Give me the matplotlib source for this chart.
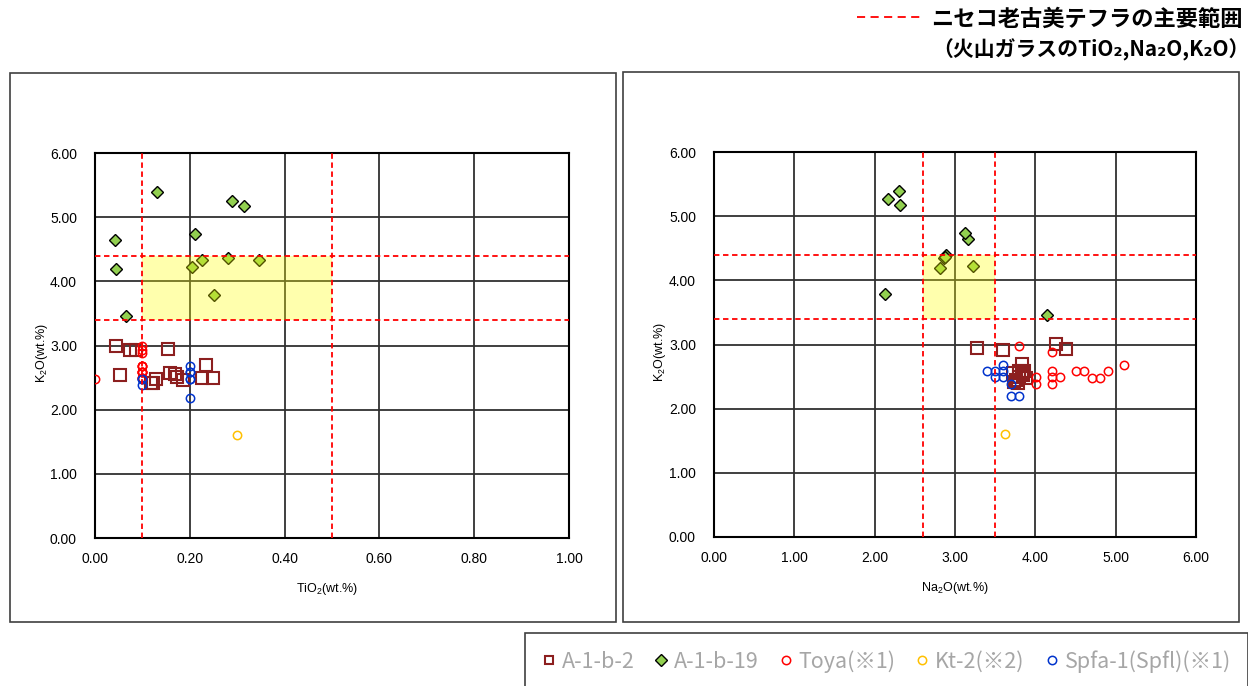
import matplotlib
matplotlib.use("Agg")
import matplotlib.pyplot as plt
from matplotlib.patches import Rectangle
from matplotlib.lines import Line2D

plt.rcParams['font.family'] = ['Liberation Sans', 'DejaVu Sans']
plt.rcParams['mathtext.default'] = 'regular'

JP = ['Noto Sans CJK JP', 'DejaVu Sans']

# A-1-b-2 (glass shards)
a1b2_tio2 = [0.045, 0.074, 0.086, 0.155, 0.053, 0.129, 0.123, 0.119, 0.158, 0.169, 0.172, 0.185, 0.234, 0.226, 0.249]
a1b2_k2o_l = [3.00, 2.93, 2.93, 2.95, 2.54, 2.48, 2.42, 2.42, 2.57, 2.55, 2.51, 2.46, 2.69, 2.50, 2.49]
a1b2_na2o = [3.28, 3.60, 4.26, 4.38, 3.84, 3.72, 3.76, 3.80, 3.85, 3.88, 3.78, 3.83, 3.74, 3.86, 3.80]
a1b2_k2o_r = [2.95, 2.92, 3.01, 2.93, 2.70, 2.55, 2.45, 2.58, 2.52, 2.48, 2.40, 2.55, 2.42, 2.58, 2.50]

# A-1-b-19
a1b19_tio2 = [0.130, 0.290, 0.314, 0.042, 0.210, 0.044, 0.205, 0.226, 0.281, 0.347, 0.252, 0.065]
a1b19_k2o_l = [5.39, 5.25, 5.17, 4.64, 4.73, 4.20, 4.22, 4.34, 4.36, 4.33, 3.78, 3.46]
a1b19_na2o = [2.30, 2.16, 2.32, 3.16, 3.13, 2.81, 3.23, 2.86, 2.89, 2.87, 2.13, 4.14]
a1b19_k2o_r = [5.39, 5.26, 5.18, 4.64, 4.74, 4.20, 4.22, 4.35, 4.39, 4.36, 3.79, 3.46]

# Toya (*1)
toya_tio2 = [0.00, 0.10, 0.10, 0.10, 0.10, 0.10, 0.10, 0.10, 0.10, 0.10, 0.10, 0.10, 0.10, 0.10]
toya_k2o_l = [2.48, 2.99, 2.93, 2.88, 2.68, 2.59, 2.50, 2.59, 2.68, 2.59, 2.50, 2.50, 2.59, 2.68]
toya_na2o = [3.80, 4.21, 4.21, 4.21, 4.21, 4.31, 4.01, 4.01, 4.50, 4.61, 4.70, 4.81, 4.91, 5.10]
toya_k2o_r = [2.98, 2.88, 2.58, 2.49, 2.38, 2.49, 2.49, 2.38, 2.58, 2.58, 2.48, 2.48, 2.58, 2.68]

# Kt-2 (*2)
kt2_tio2 = [0.30]
kt2_k2o_l = [1.60]
kt2_na2o = [3.62]
kt2_k2o_r = [1.60]

# Spfa-1 (Spfl) (*1)
spfa_tio2 = [0.10, 0.10, 0.10, 0.20, 0.20, 0.20, 0.20, 0.20, 0.20]
spfa_k2o_l = [2.48, 2.38, 2.48, 2.68, 2.58, 2.48, 2.18, 2.58, 2.48]
spfa_na2o = [3.40, 3.50, 3.60, 3.60, 3.50, 3.60, 3.70, 3.70, 3.80]
spfa_k2o_r = [2.58, 2.58, 2.68, 2.58, 2.49, 2.49, 2.38, 2.19, 2.19]

# main range of the Niseko Oikomi tephra
range_tio2 = (0.1, 0.5)
range_na2o = (2.6, 3.5)
range_k2o = (3.4, 4.4)

labels = ["A-1-b-2", "A-1-b-19", "Toya(※1)", "Kt-2(※2)", "Spfa-1(Spfl)(※1)"]

styles = [
    dict(marker='s', ms=8, mfc='none', mec='#8c1f1f', mew=1.5),
    dict(marker='D', ms=6, mfc='#92d050', mec='black', mew=1.0),
    dict(marker='o', ms=6, mfc='none', mec='#ff0000', mew=1.1),
    dict(marker='o', ms=6, mfc='none', mec='#ffc000', mew=1.1),
    dict(marker='o', ms=6, mfc='none', mec='#0033cc', mew=1.1),
]

W, H = 1248, 686
fig = plt.figure(figsize=(W / 100, H / 100), dpi=100)

# panel frames
fig.add_artist(Rectangle((10 / W, 1 - 622 / H), 606 / W, 549 / H, transform=fig.transFigure,
                         fill=False, ec='#404040', lw=1.2))
fig.add_artist(Rectangle((623 / W, 1 - 622 / H), 616 / W, 550 / H, transform=fig.transFigure,
                         fill=False, ec='#404040', lw=1.2))

ax1 = fig.add_axes([95 / W, 1 - 538 / H, 474 / W, 385 / H])
ax2 = fig.add_axes([714 / W, 1 - 537 / H, 482 / W, 385 / H])

left_sets = [(a1b2_tio2, a1b2_k2o_l), (a1b19_tio2, a1b19_k2o_l), (toya_tio2, toya_k2o_l),
             (kt2_tio2, kt2_k2o_l), (spfa_tio2, spfa_k2o_l)]
right_sets = [(a1b2_na2o, a1b2_k2o_r), (a1b19_na2o, a1b19_k2o_r), (toya_na2o, toya_k2o_r),
              (kt2_na2o, kt2_k2o_r), (spfa_na2o, spfa_k2o_r)]

handles = []
for ax, sets, xrng, xmax, xstep, xlab, lx, ly in [
        (ax1, left_sets, range_tio2, 1.0, 0.2, 'TiO$_2$(wt.%)', 0.489, -0.095),
        (ax2, right_sets, range_na2o, 6.0, 1.0, 'Na$_2$O(wt.%)', 0.50, -0.095)]:
    hs = []
    for (xs, ys), st in zip(sets, styles):
        h, = ax.plot(xs, ys, ls='none', zorder=3, **st)
        hs.append(h)
    handles = hs

    ax.add_patch(Rectangle((xrng[0], range_k2o[0]), xrng[1] - xrng[0], range_k2o[1] - range_k2o[0],
                           facecolor='#ffff00', alpha=0.32, lw=0, zorder=5))
    for xv in xrng:
        ax.axvline(xv, color='#ff0000', lw=1.3, ls=(0, (3, 2)), zorder=6)
    for yv in range_k2o:
        ax.axhline(yv, color='#ff0000', lw=1.3, ls=(0, (3, 2)), zorder=6)

    ax.set_xlim(0, xmax)
    ax.set_ylim(0, 6)
    n = int(round(xmax / xstep))
    ax.set_xticks([i * xstep for i in range(n + 1)])
    ax.set_yticks(range(7))
    ax.xaxis.set_major_formatter(plt.FormatStrFormatter('%.2f'))
    ax.yaxis.set_major_formatter(plt.FormatStrFormatter('%.2f'))
    ax.grid(True, color='#303030', lw=1.3, zorder=1)
    ax.set_axisbelow(True)
    for sp in ax.spines.values():
        sp.set_linewidth(1.5)
        sp.set_color('black')
    ax.tick_params(axis='both', length=0, labelsize=10)
    ax.tick_params(axis='y', pad=13)
    ax.tick_params(axis='x', pad=10)
    ax.set_xlabel(xlab, fontsize=9)
    ax.xaxis.set_label_coords(lx, -0.111)
    ax.set_ylabel('K$_2$O(wt.%)', fontsize=9)
    ax.yaxis.set_label_coords(ly, 0.48)

# title with range line sample
fig.add_artist(Line2D([857 / W, 920 / W], [1 - 17 / H, 1 - 17 / H], transform=fig.transFigure,
                      color='#ff0000', lw=1.3, ls=(0, (4.5, 3))))
fig.text(1243 / W, 1 - 19 / H, "ニセコ老古美テフラの主要範囲", ha='right', va='center',
         fontsize=16, fontweight='bold', family=JP)
fig.text(1250 / W, 1 - 50 / H, "（火山ガラスのTiO₂,Na₂O,K₂O）", ha='right', va='center',
         fontsize=15, fontweight='bold', family=JP)

leg = fig.legend(handles, labels, loc='upper left', ncol=5, mode='expand',
                 bbox_to_anchor=(525 / W, 0, 723 / W, 1 - 633 / H), borderaxespad=0,
                 prop={'family': JP, 'size': 15.5}, labelcolor='#a6a6a6',
                 handlelength=0.6, handletextpad=0.3, columnspacing=0.8,
                 borderpad=0.8, fancybox=False, edgecolor='#404040', framealpha=1)
leg.get_frame().set_linewidth(1.2)
for h in leg.legend_handles:
    h.set_markersize(6)

fig.savefig("out.png", dpi=100)
